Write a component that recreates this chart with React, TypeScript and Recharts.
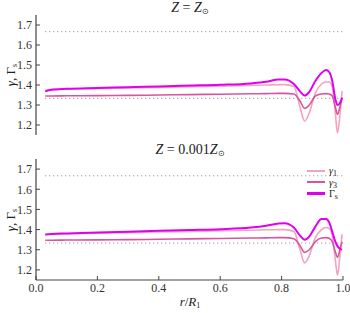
import { LineChart, Line, XAxis, YAxis, ReferenceLine } from "recharts";

// radius grid (r / R1)
const radius = [0.03, 0.05, 0.1, 0.2, 0.3, 0.4, 0.5, 0.6, 0.7, 0.75, 0.79, 0.81, 0.84, 0.86, 0.875, 0.89, 0.91, 0.93, 0.945, 0.955, 0.965, 0.975, 0.982, 0.99, 0.997];

// Z = Zsun
const solarGamma1 = [1.373, 1.377, 1.379, 1.382, 1.385, 1.388, 1.391, 1.394, 1.398, 1.4, 1.402, 1.402, 1.392, 1.29, 1.22, 1.26, 1.36, 1.405, 1.415, 1.415, 1.39, 1.26, 1.16, 1.25, 1.37];
const solarGamma3 = [1.345, 1.345, 1.346, 1.347, 1.348, 1.35, 1.352, 1.354, 1.356, 1.357, 1.358, 1.358, 1.355, 1.32, 1.283, 1.3, 1.345, 1.355, 1.357, 1.355, 1.345, 1.29, 1.253, 1.29, 1.338];
const solarGammaS = [1.368, 1.376, 1.381, 1.385, 1.389, 1.393, 1.397, 1.401, 1.408, 1.416, 1.428, 1.428, 1.405, 1.368, 1.347, 1.365, 1.42, 1.46, 1.475, 1.465, 1.42, 1.33, 1.3, 1.31, 1.335];

// Z = 0.001 Zsun
const poorGamma1 = [1.376, 1.377, 1.379, 1.382, 1.385, 1.388, 1.391, 1.394, 1.397, 1.399, 1.4, 1.4, 1.39, 1.3, 1.235, 1.27, 1.36, 1.4, 1.41, 1.405, 1.37, 1.25, 1.173, 1.27, 1.377];
const poorGamma3 = [1.347, 1.347, 1.348, 1.349, 1.35, 1.352, 1.354, 1.356, 1.358, 1.359, 1.36, 1.36, 1.355, 1.32, 1.287, 1.3, 1.34, 1.358, 1.36, 1.357, 1.34, 1.29, 1.262, 1.3, 1.34];
const poorGammaS = [1.375, 1.378, 1.381, 1.385, 1.389, 1.394, 1.398, 1.402, 1.41, 1.419, 1.43, 1.432, 1.41, 1.37, 1.35, 1.365, 1.415, 1.452, 1.452, 1.435, 1.39, 1.34, 1.318, 1.305, 1.3];

const xTicks = [0, 0.2, 0.4, 0.6, 0.8, 1.0];
const yTicks = [1.2, 1.3, 1.4, 1.5, 1.6, 1.7];

const C1 = "#f2a3bf";
const C3 = "#d6559f";
const CS = "#e000f0";
const AXIS = "#444";
const FONT = "'Liberation Serif', 'Times New Roman', serif";

const build = (g1: number[], g3: number[], gs: number[]) =>
  radius.map((r, i) => ({ r, g1: g1[i], g3: g3[i], gs: gs[i] }));

const Panel = ({ data, height, bottom, showX }: any) => (
  <LineChart width={350} height={height} data={data} margin={{ top: 0, right: 7, bottom, left: 0 }}>
    <XAxis
      dataKey="r"
      type="number"
      domain={[0, 1]}
      ticks={xTicks}
      interval={0}
      tickSize={-4}
      tickMargin={7}
      height={showX ? 20 : 0}
      tick={showX ? { fill: "#333", fontSize: 12, fontFamily: FONT } : false}
      tickFormatter={(v: number) => v.toFixed(1)}
      stroke={AXIS}
      axisLine={{ stroke: AXIS, strokeWidth: 1.2 }}
    />
    <XAxis xAxisId="top" orientation="top" dataKey="r" type="number" domain={[0, 1]} ticks={xTicks} interval={0} tickSize={-4} height={0} tick={false} stroke={AXIS} axisLine={{ stroke: AXIS, strokeWidth: 1.2 }} />
    <YAxis
      type="number"
      domain={[1.15, 1.75]}
      ticks={yTicks}
      interval={0}
      width={36}
      tickSize={-4}
      tickMargin={8}
      tick={{ fill: "#333", fontSize: 12, fontFamily: FONT }}
      tickFormatter={(v: number) => v.toFixed(1)}
      stroke={AXIS}
      axisLine={{ stroke: AXIS, strokeWidth: 1.2 }}
    />
    <YAxis yAxisId="right" orientation="right" type="number" domain={[1.15, 1.75]} ticks={yTicks} interval={0} width={0} tickSize={-4} tick={false} stroke={AXIS} axisLine={{ stroke: AXIS, strokeWidth: 1.2 }} />
    <ReferenceLine segment={[{ x: 0.03, y: 5 / 3 }, { x: 1, y: 5 / 3 }]} stroke="#888" strokeDasharray="1 3" />
    <ReferenceLine segment={[{ x: 0.03, y: 4 / 3 }, { x: 1, y: 4 / 3 }]} stroke="#888" strokeDasharray="1 3" />
    <Line type="monotone" dataKey="g1" stroke={C1} strokeWidth={1.6} dot={false} isAnimationActive={false} />
    <Line type="monotone" dataKey="g3" stroke={C3} strokeWidth={1.6} dot={false} isAnimationActive={false} />
    <Line type="monotone" dataKey="gs" stroke={CS} strokeWidth={2} dot={false} isAnimationActive={false} />
  </LineChart>
);

const abs = (style: any) => ({ position: "absolute" as const, ...style });

const subStyle = { fontSize: 8, fontStyle: "normal", verticalAlign: "-2px", lineHeight: 0 } as const;

const YLabel = ({ top }: { top: number }) => (
  <div style={abs({ left: 11, top, transform: "translate(-50%, -50%) rotate(-90deg)", fontSize: 13, whiteSpace: "nowrap", color: "#222", lineHeight: "14px" })}>
    <i>γ</i>, Γ<span style={subStyle}>s</span>
  </div>
);

const Title = ({ top, children }: any) => (
  <div style={abs({ left: 190, top, transform: "translateX(-50%)", fontSize: 14, whiteSpace: "nowrap", color: "#222", lineHeight: "16px" })}>{children}</div>
);

const Sun = () => <span style={subStyle}>⊙</span>;

const LegendRow = ({ color, width, label, top }: any) => (
  <div style={abs({ left: 307, top, height: 9, display: "flex", alignItems: "center" })}>
    <div style={{ width: 18, height: width, background: color }} />
    <span style={{ marginLeft: 4, fontSize: 10, lineHeight: "9px", whiteSpace: "nowrap", color: "#222" }}>{label}</span>
  </div>
);

export default function App() {
  const top = build(solarGamma1, solarGamma3, solarGammaS);
  const bottomData = build(poorGamma1, poorGamma3, poorGammaS);
  return (
    <div style={abs({ left: 0, top: 0, width: 350, height: 313, background: "#fff", fontFamily: FONT, overflow: "hidden" })}>
      <div style={abs({ left: 0, top: 15 })}>
        <Panel data={top} height={125} bottom={5} showX={false} />
      </div>
      <div style={abs({ left: 0, top: 159 })}>
        <Panel data={bottomData} height={154} bottom={13} showX={true} />
      </div>
      <Title top={0}>
        <i>Z</i> = <i>Z</i><Sun />
      </Title>
      <Title top={142}>
        <i>Z</i> = 0.001<i>Z</i><Sun />
      </Title>
      <YLabel top={75} />
      <YLabel top={220} />
      <div style={abs({ left: 190, top: 295, transform: "translateX(-50%)", fontSize: 13, whiteSpace: "nowrap", color: "#222", lineHeight: "14px" })}>
        <i>r</i>/<i>R</i><span style={subStyle}>1</span>
      </div>
      <LegendRow color={C1} width={2} label={<span><i>γ</i><span style={subStyle}>1</span></span>} top={166} />
      <LegendRow color={C3} width={2} label={<span><i>γ</i><span style={subStyle}>3</span></span>} top={177.5} />
      <LegendRow color={CS} width={2.5} label={<span>Γ<span style={subStyle}>s</span></span>} top={189} />
    </div>
  );
}
